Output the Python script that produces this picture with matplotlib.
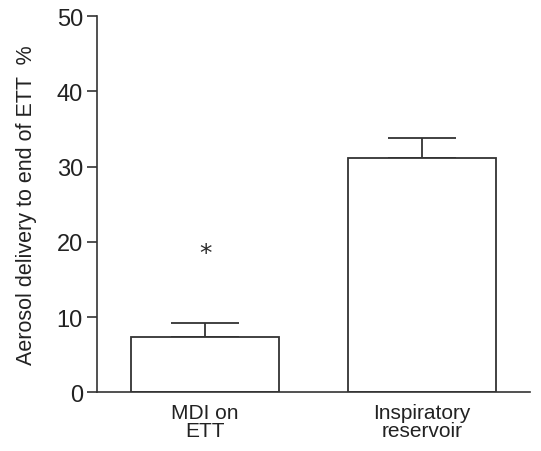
import numpy as np
import matplotlib.pyplot as plt

plt.rcParams['font.family'] = ['Liberation Sans', 'DejaVu Sans']

categories = ['MDI on\nETT', 'Inspiratory\nreservoir']
means = [7.3, 31.1]
errors = [1.9, 2.7]
star_y = 18.5

fig = plt.figure(figsize=(5.41, 4.52), dpi=100)
ax = fig.add_axes([0.179, 0.13, 0.801, 0.832])

x = np.arange(len(categories))
ax.bar(x, means, width=0.685, color='white', edgecolor='#333333', linewidth=1.3, zorder=2)
ax.errorbar(x, means, yerr=[np.zeros(len(errors)), errors], fmt='none',
            ecolor='#333333', elinewidth=1.3, capsize=24.5, capthick=1.3, zorder=1)
ax.text(x[0], star_y, '*', ha='center', va='center', fontsize=18, color='#2a2a2a',
        family='DejaVu Sans')

ax.set_xlim(-0.5, 1.5)
ax.set_ylim(0, 50)
ax.set_yticks([0, 10, 20, 30, 40, 50])
ax.set_xticks(x)
ax.set_xticklabels(categories, fontsize=15, linespacing=0.9, color='#222222')
ax.tick_params(axis='x', length=0, pad=8)
ax.tick_params(axis='y', length=7, width=1.2, color='#333333', labelsize=17, pad=3,
               labelcolor='#222222')
ax.set_ylabel('Aerosol delivery to end of ETT  %', fontsize=15.5, labelpad=14, color='#222222')

for s in ['top', 'right']:
    ax.spines[s].set_visible(False)
for s in ['left', 'bottom']:
    ax.spines[s].set_linewidth(1.2)
    ax.spines[s].set_color('#333333')

fig.savefig('out.png', dpi=100)
